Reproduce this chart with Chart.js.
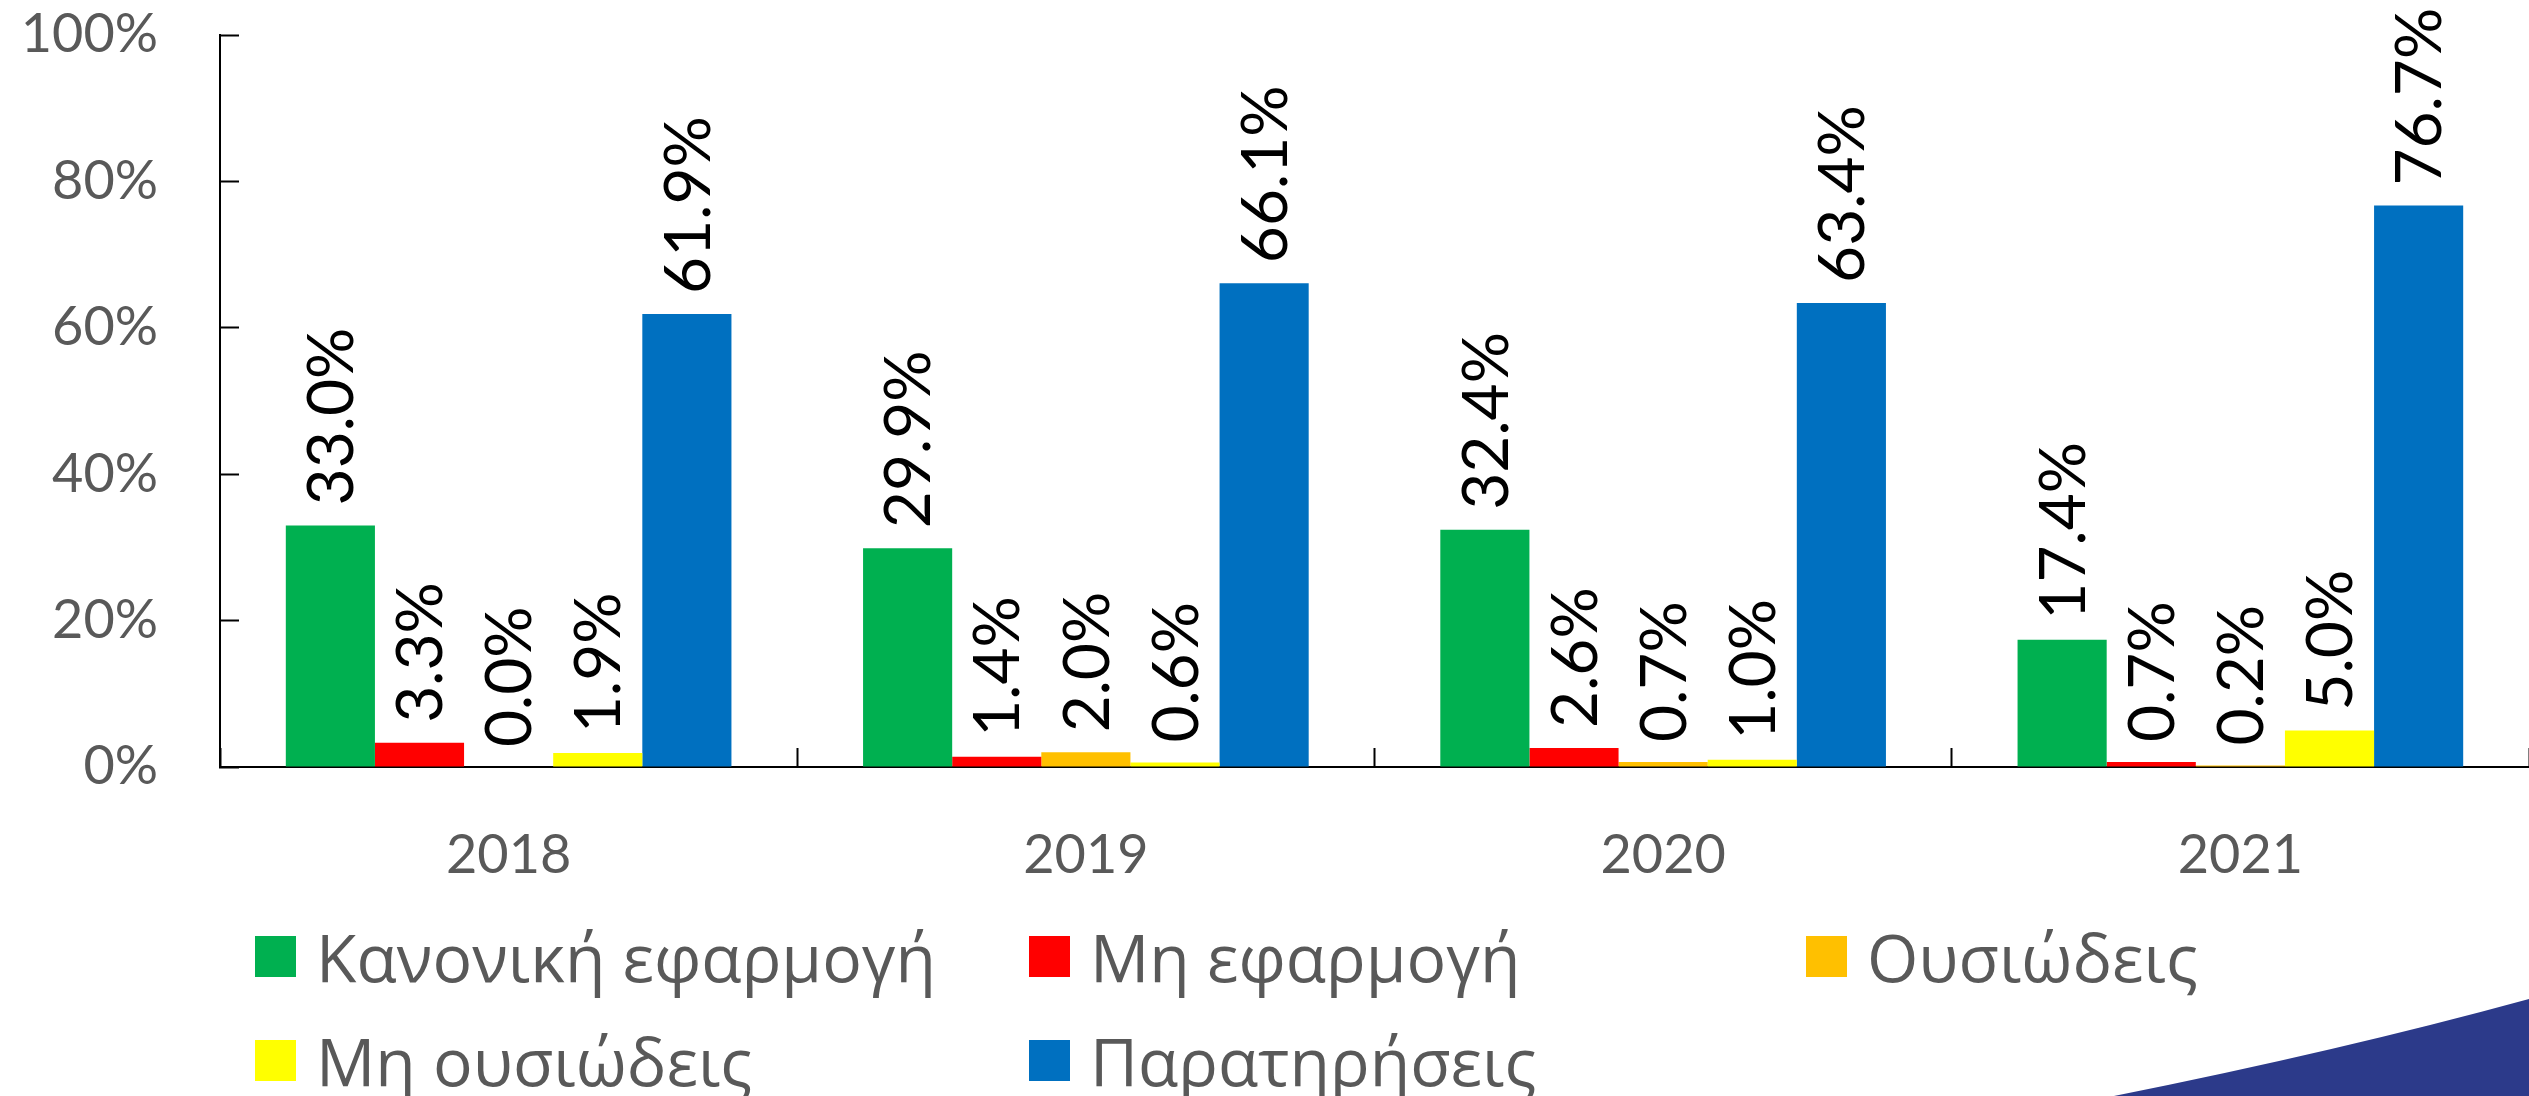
<!DOCTYPE html>
<html>
<head>
<meta charset="utf-8">
<script src="https://cdn.jsdelivr.net/npm/chart.js@4/dist/chart.umd.min.js"></script>
<style>
  html, body { margin: 0; padding: 0; background: #fff; overflow: hidden; }
  #wrap { position: relative; width: 2529px; height: 1096px; }
  #myChart { position: absolute; left: 0; top: 0; }
  .leg { position: absolute; display: flex; align-items: center; font-family: 'Open Sans', sans-serif; font-size: 66px; color: #595959; white-space: nowrap; }
  .leg span.box { display: inline-block; width: 41px; height: 41px; margin-right: 20px; }
</style>
</head>
<body>
<div id="wrap">
  <canvas id="myChart" width="2529" height="1096"></canvas>
  <div id="legend"></div>
</div>
<script>
// dados do gráfico
var years = ['2018', '2019', '2020', '2021'];
var seriesNames = ['Κανονική εφαρμογή', 'Μη εφαρμογή', 'Ουσιώδεις', 'Μη ουσιώδεις', 'Παρατηρήσεις'];
var kanonikh = [33.0, 29.9, 32.4, 17.4];
var mhEfarmogh = [3.3, 1.4, 2.6, 0.7];
var ousiwdeis = [0.0, 2.0, 0.7, 0.2];
var mhOusiwdeis = [1.9, 0.6, 1.0, 5.0];
var paratirhseis = [61.9, 66.1, 63.4, 76.7];
var yTicks = [0, 20, 40, 60, 80, 100];
var colors = ['#00B050', '#FF0000', '#FFC000', '#FFFF00', '#0070C0'];

var allSeries = [kanonikh, mhEfarmogh, ousiwdeis, mhOusiwdeis, paratirhseis];

// rótulos verticais acima das barras
var valueLabels = {
  id: 'valueLabels',
  afterDatasetsDraw: function (chart) {
    var ctx = chart.ctx;
    ctx.save();
    ctx.font = '64px Lato';
    ctx.fillStyle = '#000';
    ctx.textAlign = 'left';
    ctx.textBaseline = 'middle';
    chart.data.datasets.forEach(function (ds, i) {
      var meta = chart.getDatasetMeta(i);
      meta.data.forEach(function (bar, j) {
        ctx.save();
        ctx.translate(bar.x + 2, bar.y - 20);
        ctx.rotate(-Math.PI / 2);
        ctx.fillText(ds.data[j].toFixed(1) + '%', 0, 0);
        ctx.restore();
      });
    });
    ctx.restore();
  }
};

// faixa azul no canto inferior direito
var swoosh = {
  id: 'swoosh',
  afterDraw: function (chart) {
    var ctx = chart.ctx;
    var w = chart.width, h = chart.height;
    ctx.save();
    ctx.beginPath();
    ctx.moveTo(w - 415, h);
    ctx.quadraticCurveTo(w - 190, h - 45, w, h - 97);
    ctx.lineTo(w, h);
    ctx.closePath();
    ctx.fillStyle = '#2c3a8a';
    ctx.fill();
    ctx.restore();
  }
};

var ctx = document.getElementById('myChart');
var myChart = new Chart(ctx, {
  type: 'bar',
  data: {
    labels: years,
    datasets: seriesNames.map(function (name, i) {
      return {
        label: name,
        data: allSeries[i],
        backgroundColor: colors[i],
        borderWidth: 0,
        barPercentage: 1,
        categoryPercentage: 0.772
      };
    })
  },
  options: {
    responsive: false,
    animation: false,
    devicePixelRatio: 1,
    layout: { padding: { top: 35, right: 0, left: 0, bottom: 0 } },
    plugins: {
      legend: { display: false },
      tooltip: { enabled: false }
    },
    scales: {
      x: {
        grid: { drawOnChartArea: false, drawTicks: true, tickLength: -19, tickColor: '#000', tickWidth: 2 },
        border: { color: '#000', width: 2 },
        ticks: { color: '#595959', font: { family: 'Lato', size: 54 }, padding: 75 },
        afterFit: function (scale) {
          scale.height = 329;
          scale.paddingLeft = 0;
          scale.paddingRight = 0;
        }
      },
      y: {
        min: 0,
        max: 100,
        afterBuildTicks: function (scale) {
          scale.ticks = yTicks.map(function (v) { return { value: v }; });
        },
        grid: { drawOnChartArea: false, drawTicks: true, tickLength: -19, tickColor: '#000', tickWidth: 2 },
        border: { color: '#000', width: 2 },
        ticks: {
          color: '#595959',
          font: { family: 'Lato', size: 54 },
          padding: 81,
          callback: function (v) { return v + '%'; }
        },
        afterFit: function (scale) {
          scale.width = 220;
          scale.paddingTop = 0;
          scale.paddingBottom = 0;
        }
      }
    }
  },
  plugins: [valueLabels, swoosh]
});

// legenda em grade de três colunas
var legendPos = [[255, 956], [1029, 956], [1806, 956], [255, 1060], [1029, 1060]];
var legendDiv = document.getElementById('legend');
seriesNames.forEach(function (name, i) {
  var item = document.createElement('div');
  item.className = 'leg';
  item.style.left = legendPos[i][0] + 'px';
  item.style.top = (legendPos[i][1] - 45) + 'px';
  item.style.height = '90px';
  var box = document.createElement('span');
  box.className = 'box';
  box.style.background = colors[i];
  item.appendChild(box);
  item.appendChild(document.createTextNode(name));
  legendDiv.appendChild(item);
});
</script>
</body>
</html>
